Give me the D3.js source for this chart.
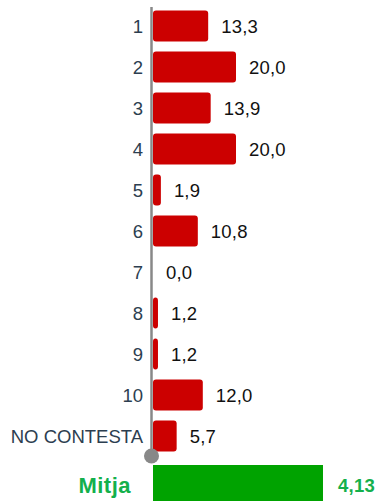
<!DOCTYPE html>
<html>
<head>
<meta charset="utf-8">
<script src="https://cdn.jsdelivr.net/npm/d3@7"></script>
<style>
  html, body { margin: 0; padding: 0; background: #fff; }
  svg { display: block; }
  text { font-family: "Liberation Sans", Arial, Helvetica, sans-serif; }
</style>
</head>
<body>
<svg id="chart" width="377" height="501"></svg>
<script>
const categories = ["1", "2", "3", "4", "5", "6", "7", "8", "9", "10", "NO CONTESTA"];
const values = [13.3, 20.0, 13.9, 20.0, 1.9, 10.8, 0.0, 1.2, 1.2, 12.0, 5.7];
const meanLabel = "Mitja";
const meanValue = 4.13;

const svg = d3.select("#chart");
const x0 = 153;

const x = d3.scaleLinear().domain([0, 20]).range([x0, x0 + 83]);
const y = d3.scaleBand().domain(categories).range([5.5, 456.5])
  .paddingInner(0.244).paddingOuter(0.122);
const xMean = d3.scaleLinear().domain([0, 5]).range([x0, x0 + 205.8]);

const fmt = v => d3.format(".1f")(v).replace(".", ",");
const fmt2 = v => d3.format(".2f")(v).replace(".", ",");

// bars
svg.append("g").selectAll("rect").data(values).join("rect")
  .attr("x", x(0))
  .attr("y", (d, i) => y(categories[i]))
  .attr("width", d => Math.max(0, x(d) - x(0)))
  .attr("height", y.bandwidth())
  .attr("rx", d => d > 0 ? 3 : 0)
  .attr("fill", "#cc0000");

// axis line
svg.append("line")
  .attr("x1", 151.5).attr("x2", 151.5)
  .attr("y1", 7).attr("y2", 456)
  .attr("stroke", "#888").attr("stroke-width", 2.5);
svg.append("circle")
  .attr("cx", 151.5).attr("cy", 456).attr("r", 7.5)
  .attr("fill", "#888");

// category labels
svg.append("g").selectAll("text").data(categories).join("text")
  .attr("x", 143)
  .attr("y", d => y(d) + y.bandwidth() / 2)
  .attr("dy", "0.36em")
  .attr("text-anchor", "end")
  .attr("font-size", 18.5)
  .attr("fill", "#2c3e50")
  .text(d => d);

// value labels
svg.append("g").selectAll("text").data(values).join("text")
  .attr("x", d => x(d) + 13)
  .attr("y", (d, i) => y(categories[i]) + y.bandwidth() / 2)
  .attr("dy", "0.36em")
  .attr("font-size", 18.5)
  .attr("letter-spacing", 0.2)
  .attr("fill", "#111")
  .text(d => fmt(d));

// mean bar
svg.append("rect")
  .attr("x", xMean(0)).attr("y", 465)
  .attr("width", xMean(meanValue) - xMean(0))
  .attr("height", 40)
  .attr("fill", "#00a300");

svg.append("text")
  .attr("x", 131).attr("y", 493)
  .attr("text-anchor", "end")
  .attr("font-size", 22).attr("font-weight", "bold")
  .attr("letter-spacing", 0.5)
  .attr("fill", "#14b04c")
  .text(meanLabel);

svg.append("text")
  .attr("x", xMean(meanValue) + 15).attr("y", 492)
  .attr("font-size", 18.5).attr("font-weight", "bold")
  .attr("letter-spacing", 0.3)
  .attr("fill", "#14b04c")
  .text(fmt2(meanValue));
</script>
</body>
</html>
